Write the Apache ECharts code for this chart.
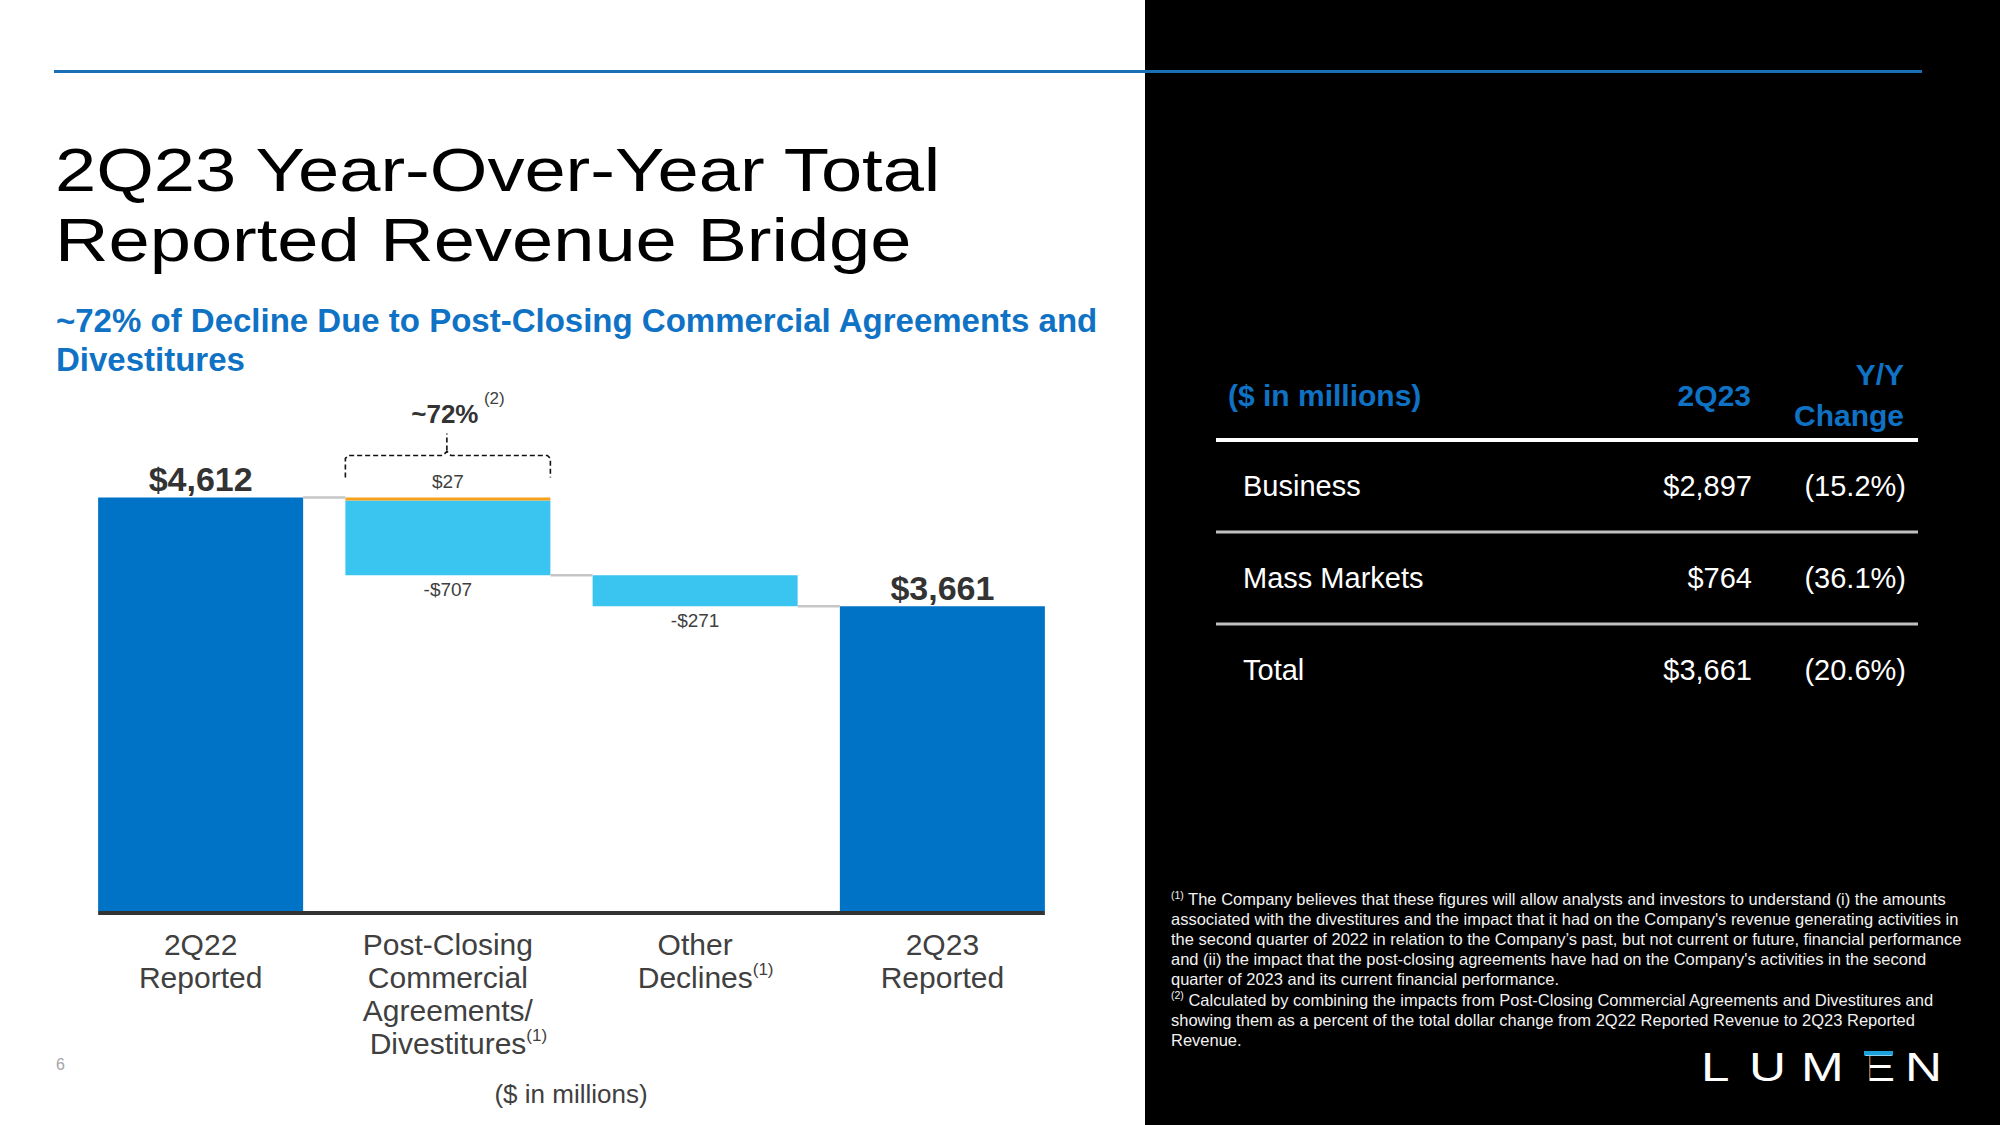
<!DOCTYPE html>
<html><head><meta charset="utf-8">
<script src="https://cdn.jsdelivr.net/npm/echarts@6/dist/echarts.min.js"></script>
<style>html,body{margin:0;padding:0;background:#fff}#chart{width:2000px;height:1125px}</style>
</head><body><div id="chart"></div>
<script>
// ---------- data ----------
const categories = ['2Q22\nReported', 'Post-Closing\nCommercial\nAgreements/\nDivestitures', 'Other\nDeclines', '2Q23\nReported'];
const categoryFootnotes = ['', '1', '1', ''];
const reported2Q22 = 4612;
const reported2Q23 = 3661;
const postClosingDecline = -707;
const postClosingOffset = 27;
const otherDeclines = -271;
const shareOfDecline = '~72%';
const shareFootnote = '2';
const axisMin = 1000;
const axisMax = 5000;

const tableHeaders = ['($ in millions)', '2Q23', 'Y/Y\nChange'];
const tableSegments = ['Business', 'Mass Markets', 'Total'];
const tableRevenue = [2897, 764, 3661];
const tableChange = [-15.2, -36.1, -20.6];

const titleLines = ['2Q23 Year-Over-Year Total', 'Reported Revenue Bridge'];
const subtitleLines = ['~72% of Decline Due to Post-Closing Commercial Agreements and', 'Divestitures'];
const unitNote = '($ in millions)';
const pageNumber = '6';
const footnoteLines = [
  '{s|(1)} The Company believes that these figures will allow analysts and investors to understand (i) the amounts',
  'associated with the divestitures and the impact that it had on the Company\'s revenue generating activities in',
  'the second quarter of 2022 in relation to the Company\u2019s past, but not current or future, financial performance',
  'and (ii) the impact that the post-closing agreements have had on the Company\'s activities in the second',
  'quarter of 2023 and its current financial performance.',
  '{s|(2)} Calculated by combining the impacts from Post-Closing Commercial Agreements and Divestitures and',
  'showing them as a percent of the total dollar change from 2Q22 Reported Revenue to 2Q23 Reported',
  'Revenue.'
];
const logoLetters = ['L', 'U', 'M', 'E', 'N'];

// ---------- derived series ----------
const bottomPost = reported2Q22 + postClosingDecline + postClosingOffset;
const bottomOther = bottomPost + otherDeclines;
const baseData = [0, bottomPost, bottomOther, 0];
const totalData = [reported2Q22, '-', '-', reported2Q23];
const declineData = ['-', reported2Q22 - postClosingOffset - bottomPost, -otherDeclines, '-'];
const offsetData = ['-', postClosingOffset, '-', '-'];
const declineLabels = [null, postClosingDecline, otherDeclines, null];
const connectorData = [[0, reported2Q22], [1, bottomPost], [2, bottomOther]];

const F = "'Liberation Sans', Arial, Helvetica, sans-serif";
const DARK = '#0073c6', LIGHT = '#39c5f0', ORANGE = '#f6a01c', TXT = '#404040';
const BLUE_TXT = '#0f72c4';
const BAR_W = 205;
const money = v => (v < 0 ? '-$' : '$') + Math.abs(v).toLocaleString('en-US');

const chart = echarts.init(document.getElementById('chart'), null, {renderer: 'svg'});

// ---------- slide graphics (text & decorations) ----------
const g = [];
g.push({type: 'rect', z: -10, shape: {x: 1145, y: 0, width: 855, height: 1125}, style: {fill: '#000'}});
g.push({type: 'line', shape: {x1: 54, y1: 71.5, x2: 1922, y2: 71.5}, style: {stroke: '#1a6fb6', lineWidth: 3}});
const titleY = [169.5, 239.5];
titleLines.forEach((t, i) => {
  g.push({type: 'text', x: 55, y: titleY[i], scaleX: 1.195, style: {text: t, fontFamily: F, fontSize: 62, fill: '#000', verticalAlign: 'middle'}});
});
g.push({type: 'text', x: 56, y: 301, style: {text: subtitleLines.join('\n'), fontFamily: F, fontSize: 33, fontWeight: 'bold', lineHeight: 39, fill: BLUE_TXT, verticalAlign: 'top'}});
g.push({type: 'text', x: 571, y: 1094, style: {text: unitNote, fontFamily: F, fontSize: 26, fill: TXT, align: 'center', verticalAlign: 'middle'}});
g.push({type: 'text', x: 56, y: 1064, style: {text: pageNumber, fontFamily: F, fontSize: 16, fill: '#a6a6a6', verticalAlign: 'middle'}});

// table
g.push({type: 'text', x: 1228, y: 395, style: {text: tableHeaders[0], fontFamily: F, fontSize: 30, fontWeight: 'bold', fill: BLUE_TXT, verticalAlign: 'middle'}});
g.push({type: 'text', x: 1751, y: 395, style: {text: tableHeaders[1], fontFamily: F, fontSize: 30, fontWeight: 'bold', fill: BLUE_TXT, align: 'right', verticalAlign: 'middle'}});
g.push({type: 'text', x: 1904, y: 395, style: {text: tableHeaders[2], fontFamily: F, fontSize: 30, fontWeight: 'bold', lineHeight: 41, fill: BLUE_TXT, align: 'right', verticalAlign: 'middle'}});
g.push({type: 'line', shape: {x1: 1216, y1: 440, x2: 1918, y2: 440}, style: {stroke: '#fff', lineWidth: 4}});
const rowY = [486, 578, 670];
tableSegments.forEach((s, i) => {
  g.push({type: 'text', x: 1243, y: rowY[i], style: {text: s, fontFamily: F, fontSize: 29, fill: '#fff', verticalAlign: 'middle'}});
  g.push({type: 'text', x: 1752, y: rowY[i], style: {text: money(tableRevenue[i]), fontFamily: F, fontSize: 29, fill: '#fff', align: 'right', verticalAlign: 'middle'}});
  g.push({type: 'text', x: 1906, y: rowY[i], style: {text: '(' + Math.abs(tableChange[i]).toFixed(1) + '%)', fontFamily: F, fontSize: 29, fill: '#fff', align: 'right', verticalAlign: 'middle'}});
  if (i < tableSegments.length - 1) {
    g.push({type: 'line', shape: {x1: 1216, y1: rowY[i] + 46, x2: 1918, y2: rowY[i] + 46}, style: {stroke: '#c0c0c0', lineWidth: 3}});
  }
});
// footnotes
g.push({type: 'text', x: 1171, y: 889, style: {text: footnoteLines.join('\n'), fontFamily: F, fontSize: 16.5, lineHeight: 20.1, fill: '#f2f2f2', verticalAlign: 'top',
  rich: {s: {fontFamily: F, fontSize: 10.5, lineHeight: 11, verticalAlign: 'top', fill: '#f2f2f2'}}}});
// logo
const logoX = [1701, 1749, 1801, 1861, 1905];
logoLetters.forEach((c, i) => {
  g.push({type: 'text', x: logoX[i], y: 1067, scaleX: 1.25, style: {text: c, fontFamily: F, fontSize: 41, fill: '#fff', verticalAlign: 'middle'}});
});
g.push({type: 'rect', shape: {x: 1864, y: 1056, width: 5.5, height: 27}, style: {fill: '#000'}});
g.push({type: 'rect', shape: {x: 1864, y: 1051, width: 29, height: 4.5}, style: {fill: '#1ba0dc'}});

const option = {
  animation: false,
  backgroundColor: '#fff',
  grid: {left: 77, right: 934, top: 453, bottom: 214, outerBoundsMode: 'none', containLabel: false},
  xAxis: {
    type: 'category', data: categories,
    axisLine: {show: false}, axisTick: {show: false}, splitLine: {show: false},
    axisLabel: {
      interval: 0, margin: 17, fontSize: 30, lineHeight: 33, color: TXT, fontFamily: F,
      formatter: (v, i) => {
        const fn = categoryFootnotes[i];
        if (!fn) return v;
        const lines = v.split('\n');
        lines[lines.length - 1] = '{pad|}' + lines[lines.length - 1] + '{sup|(' + fn + ')}';
        return lines.join('\n');
      },
      rich: {
        sup: {fontSize: 17, lineHeight: 10, verticalAlign: 'top', color: TXT, fontFamily: F},
        pad: {width: 21}
      }
    }
  },
  yAxis: {type: 'value', min: axisMin, max: axisMax, show: false, splitLine: {show: false}},
  series: [
    {name: 'base', type: 'bar', stack: 'w', barWidth: BAR_W, data: baseData, itemStyle: {color: 'rgba(0,0,0,0)'}, silent: true},
    {name: 'total', type: 'bar', stack: 'w', barWidth: BAR_W, data: totalData, itemStyle: {color: DARK},
      label: {show: true, position: 'top', distance: 1, formatter: p => money(p.value), fontFamily: F, fontSize: 34, fontWeight: 'bold', color: '#333'}},
    {name: 'decline', type: 'bar', stack: 'w', barWidth: BAR_W, data: declineData, itemStyle: {color: LIGHT},
      label: {show: true, position: 'bottom', distance: 5, formatter: p => money(declineLabels[p.dataIndex]), fontFamily: F, fontSize: 19, color: TXT}},
    {name: 'offset', type: 'bar', stack: 'w', barWidth: BAR_W, data: offsetData, itemStyle: {color: ORANGE},
      label: {show: true, position: 'top', distance: 6, formatter: p => money(p.value), fontFamily: F, fontSize: 19, color: TXT}},
    {name: 'connectors', type: 'custom', silent: true, z: 3, data: connectorData,
      renderItem: (params, api) => {
        const p = api.coord([api.value(0), api.value(1)]);
        const band = api.size([1, 0])[0];
        return {type: 'line', shape: {x1: p[0] + BAR_W / 2, y1: p[1], x2: p[0] + band - BAR_W / 2, y2: p[1]},
          style: {stroke: '#c6c6c6', lineWidth: 2.5}};
      }},
    {name: 'baseline', type: 'custom', silent: true, z: 3, data: [[0, axisMin]],
      renderItem: (params, api) => {
        const a = api.coord([0, axisMin]);
        const b = api.coord([categories.length - 1, axisMin]);
        return {type: 'line', shape: {x1: a[0] - BAR_W / 2, y1: a[1] + 2, x2: b[0] + BAR_W / 2, y2: b[1] + 2},
          style: {stroke: '#333', lineWidth: 4}};
      }},
    {name: 'bracket', type: 'custom', silent: true, z: 3, data: [[1, reported2Q22]],
      renderItem: (params, api) => {
        const p = api.coord([api.value(0), api.value(1)]);
        const cx = p[0], top = p[1], hw = BAR_W / 2;
        const dash = {stroke: '#111', lineWidth: 1.6, lineDash: [5, 3], fill: null};
        return {type: 'group', children: [
          {type: 'polyline', shape: {points: [[cx - hw, top - 20], [cx - hw, top - 39], [cx - hw + 3, top - 42], [cx - 5, top - 42], [cx - 1, top - 46], [cx + 3, top - 42], [cx + hw - 3, top - 42], [cx + hw, top - 39], [cx + hw, top - 20]]}, style: dash},
          {type: 'line', shape: {x1: cx - 1, y1: top - 47, x2: cx - 1, y2: top - 64}, style: dash},
          {type: 'text', x: cx - 3, y: top - 83, style: {text: shareOfDecline, fontFamily: F, fontSize: 26, fontWeight: 'bold', fill: '#333', align: 'center', verticalAlign: 'middle'}},
          {type: 'text', x: cx + 36, y: top - 99, style: {text: '(' + shareFootnote + ')', fontFamily: F, fontSize: 17, fill: TXT, align: 'left', verticalAlign: 'middle'}}
        ]};
      }}
  ],
  graphic: {elements: g}
};
chart.setOption(option);
</script></body></html>
